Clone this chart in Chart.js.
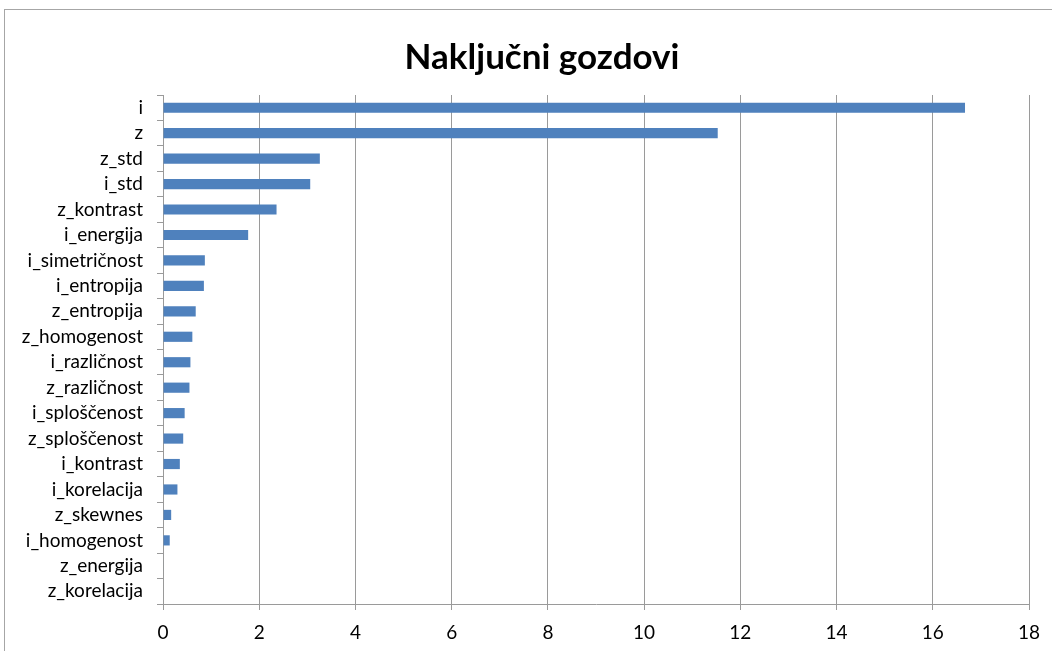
<!DOCTYPE html>
<html>
<head>
<meta charset="utf-8">
<script src="https://cdn.jsdelivr.net/npm/chart.js@4"></script>
<style>
  html, body { margin: 0; padding: 0; background: #fff; overflow: hidden; }
  #frame {
    position: absolute; left: 4px; top: 9px;
    width: 1076px; height: 700px;
    border-left: 1px solid #a6a6a6; border-top: 1px solid #a6a6a6;
  }
  #wrap { position: absolute; left: 4px; top: 9px; width: 1076px; height: 642px; }
</style>
</head>
<body>
<div id="frame"></div>
<div id="wrap"><canvas id="importance-chart"></canvas></div>
<script>
const features = [
  'i', 'z', 'z_std', 'i_std', 'z_kontrast', 'i_energija', 'i_simetričnost',
  'i_entropija', 'z_entropija', 'z_homogenost', 'i_različnost', 'z_različnost',
  'i_sploščenost', 'z_sploščenost', 'i_kontrast', 'i_korelacija', 'z_skewnes',
  'i_homogenost', 'z_energija', 'z_korelacija'
];
const importance = [
  16.67, 11.53, 3.26, 3.06, 2.36, 1.77, 0.87,
  0.85, 0.68, 0.61, 0.57, 0.55,
  0.45, 0.42, 0.35, 0.30, 0.17,
  0.14, 0.01, 0
];
const xTicks = [0, 2, 4, 6, 8, 10, 12, 14, 16, 18];

const gridGray = '#9a9a9a';
const labelFont = { family: 'Lato', size: 19 };

const ctx = document.getElementById('importance-chart').getContext('2d');
new Chart(ctx, {
  type: 'bar',
  data: {
    labels: features,
    datasets: [
      {
        data: importance,
        backgroundColor: '#4F81BD',
        barPercentage: 0.4,
        categoryPercentage: 1,
      },
    ],
  },
  options: {
    indexAxis: 'y',
    responsive: true,
    maintainAspectRatio: false,
    animation: false,
    layout: { padding: 0 },
    plugins: {
      legend: { display: false },
      tooltip: { enabled: false },
      title: {
        display: true,
        text: 'Naključni gozdovi',
        color: '#000',
        font: { family: 'Lato', size: 35, weight: 'bold' },
        padding: { top: 28, bottom: 16 },
      },
    },
    scales: {
      x: {
        min: 0,
        max: 18,
        afterBuildTicks: (scale) => {
          scale.ticks = xTicks.map((v) => ({ value: v }));
        },
        afterFit: (scale) => {
          scale.height = 47;
          // keep the plot clear of the right edge of the frame
          scale.paddingRight = 51;
        },
        grid: { color: gridGray, tickLength: 6, tickColor: gridGray },
        border: { color: gridGray },
        ticks: { color: '#000', font: labelFont, padding: 11 },
      },
      y: {
        afterFit: (scale) => { scale.width = 159; },
        grid: { drawOnChartArea: false, offset: true, tickLength: 6, tickColor: gridGray },
        border: { color: gridGray },
        ticks: { color: '#000', font: labelFont, padding: 14, autoSkip: false },
      },
    },
  },
});
</script>
</body>
</html>
